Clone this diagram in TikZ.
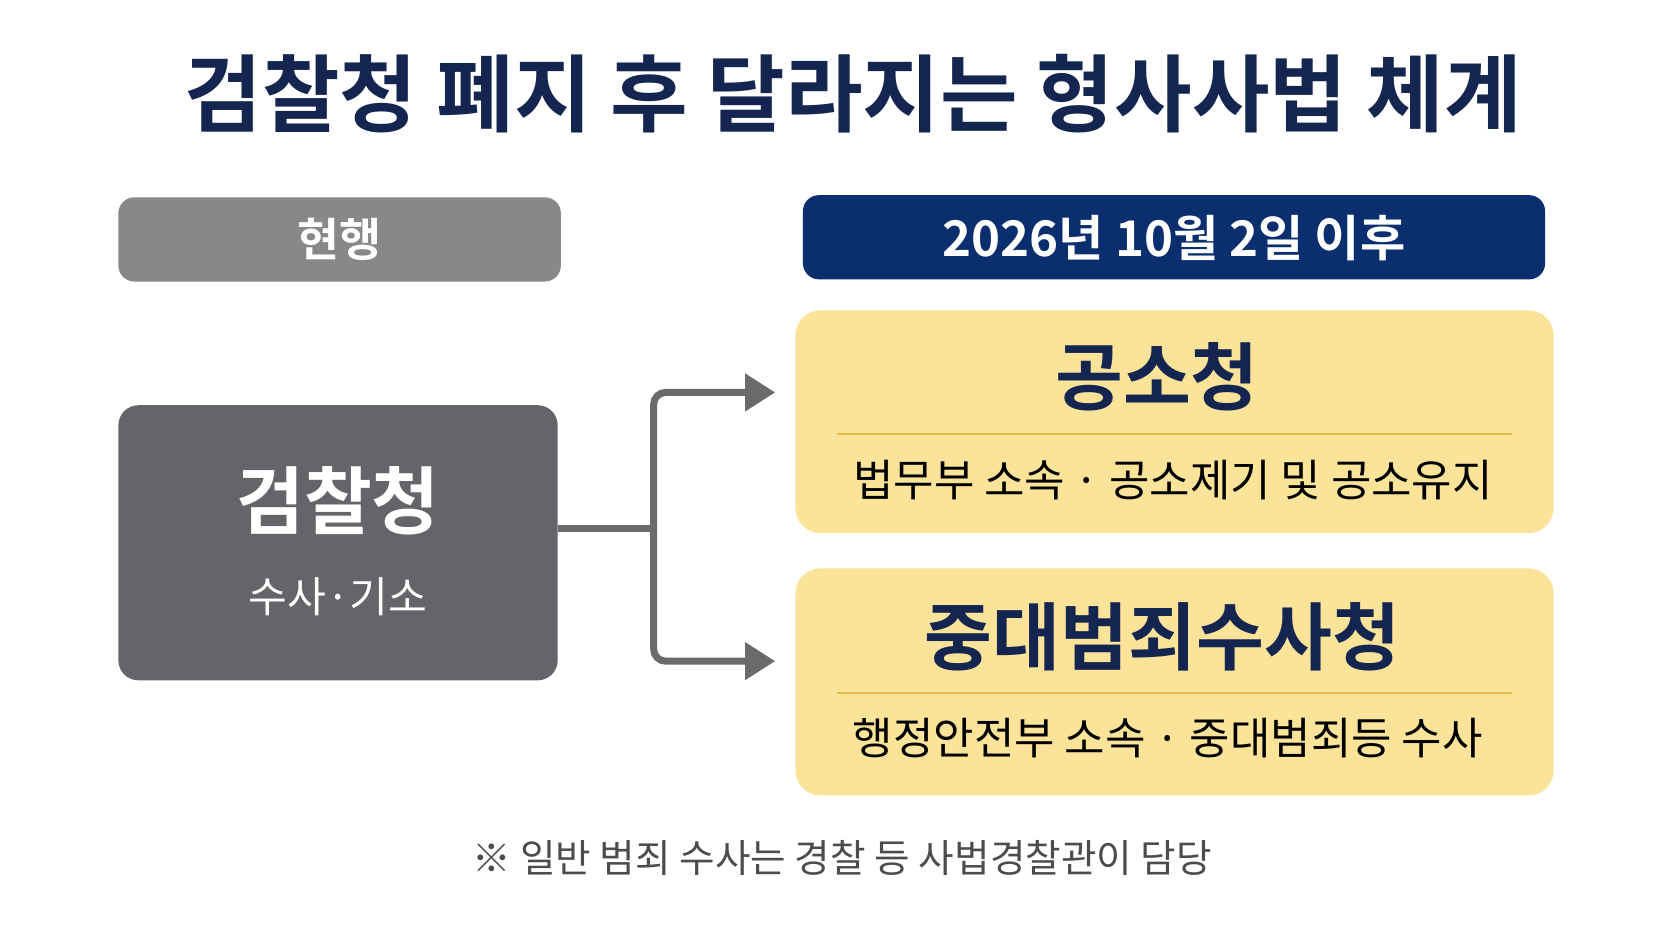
\documentclass[tikz,border=0pt]{standalone}
\usepackage{fontspec}
\setmainfont{Noto Sans CJK KR}
\newfontfamily\kb{Noto Sans CJK KR Bold}
\usetikzlibrary{arrows.meta}
\definecolor{navy}{HTML}{14254F}
\definecolor{datebg}{HTML}{0B2F6E}
\definecolor{graybox}{HTML}{888888}
\definecolor{darkbox}{HTML}{636569}
\definecolor{yel}{HTML}{FBE49A}
\definecolor{gold}{HTML}{E8B84A}
\definecolor{conn}{HTML}{6B6B6B}
\begin{document}
\begin{tikzpicture}[x=0.01066cm,y=-0.01066cm,
  box/.style={draw=none,rounded corners=0.16cm,inner sep=0pt},
  arr/.style={conn,line width=2pt,rounded corners=0.12cm,-{Triangle[length=0.3cm,width=0.36cm]}}]
\fill[white] (0,0) rectangle (1568,882);
\useasboundingbox (0,0) rectangle (1568,882);
\node[text=navy,font=\kb\fontsize{24}{28}\selectfont] (title) at (800,88) {검찰청 폐지 후 달라지는 형사사법 체계};
\fill[graybox,rounded corners=0.16cm] (111,185) rectangle (526,264);
\node[text=white,font=\kb\fontsize{13}{15}\selectfont] (cur) at (318,224) {현행};
\fill[datebg,rounded corners=0.16cm] (753,183) rectangle (1449,262);
\node[text=white,font=\kb\fontsize{14}{16}\selectfont] (date) at (1101,223) {2026년 10월 2일 이후};
\fill[darkbox,rounded corners=0.2cm] (111,380) rectangle (523,638);
\coordinate (src) at (523,496);
\node[text=white,font=\kb\fontsize{21}{24}\selectfont] (pros) at (317,470) {검찰청};
\node[text=white,font=\fontsize{12}{14}\selectfont] (prossub) at (317,560) {수사·기소};
\fill[yel,rounded corners=0.25cm] (746,291) rectangle (1457,500);
\draw[gold,line width=0.6pt] (785,407) -- (1418,407);
\node[text=navy,font=\kb\fontsize{21}{24}\selectfont] (a) at (1085,353) {공소청};
\node[text=black,font=\fontsize{12.5}{14}\selectfont] (asub) at (1100,450) {법무부 소속 · 공소제기 및 공소유지};
\fill[yel,rounded corners=0.25cm] (746,533) rectangle (1457,746);
\draw[gold,line width=0.6pt] (785,650) -- (1418,650);
\node[text=navy,font=\kb\fontsize{21}{24}\selectfont] (b) at (1090,597) {중대범죄수사청};
\node[text=black,font=\fontsize{12.5}{14}\selectfont] (bsub) at (1095,692) {행정안전부 소속 · 중대범죄등 수사};
\coordinate (ta) at (727,368);
\coordinate (tb) at (727,620);
\draw[conn,line width=2pt] (src) -- (613,496);
\draw[arr] (613,497) -- (613,368) -- (ta);
\draw[arr] (613,495) -- (613,620) -- (tb);
\node[text=black!70,font=\fontsize{11}{13}\selectfont] (note) at (790,805) {※ 일반 범죄 수사는 경찰 등 사법경찰관이 담당};
\end{tikzpicture}
\end{document}
